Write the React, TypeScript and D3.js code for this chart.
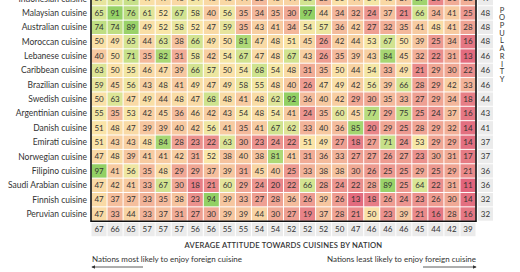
import React from 'react';
import * as d3 from 'd3';

const WIDTH = 520;
const HEIGHT = 272;

const cuisines = [
  'Indonesian cuisine',
  'Malaysian cuisine',
  'Australian cuisine',
  'Moroccan cuisine',
  'Lebanese cuisine',
  'Caribbean cuisine',
  'Brazilian cuisine',
  'Swedish cuisine',
  'Argentinian cuisine',
  'Danish cuisine',
  'Emirati cuisine',
  'Norwegian cuisine',
  'Filipino cuisine',
  'Saudi Arabian cuisine',
  'Finnish cuisine',
  'Peruvian cuisine',
];

// one row per cuisine, one column per (unlabelled) nation
const scores = [
  [59, 64, 71, 49, 47, 46, 54, 46, 46, 44, 35, 45, 44, 66, 35, 50, 44, 54, 46, 39, 87, 20, 31, 32],
  [65, 91, 76, 61, 52, 67, 58, 40, 56, 35, 34, 35, 30, 97, 44, 34, 32, 24, 37, 21, 66, 34, 41, 25],
  [74, 74, 89, 49, 52, 58, 52, 47, 59, 35, 43, 41, 34, 54, 57, 36, 42, 27, 32, 35, 41, 48, 41, 28],
  [50, 49, 65, 44, 63, 38, 66, 49, 50, 81, 47, 48, 51, 45, 26, 42, 44, 53, 67, 50, 39, 25, 34, 16],
  [40, 50, 71, 35, 82, 31, 58, 42, 54, 67, 47, 48, 67, 43, 26, 35, 39, 43, 84, 45, 32, 22, 31, 13],
  [63, 50, 55, 46, 47, 39, 66, 57, 50, 54, 68, 54, 48, 31, 35, 50, 44, 54, 33, 49, 21, 29, 30, 22],
  [59, 45, 56, 43, 48, 41, 49, 47, 49, 58, 55, 48, 40, 26, 47, 49, 42, 56, 39, 66, 28, 29, 42, 33],
  [50, 63, 47, 49, 44, 48, 47, 68, 48, 41, 48, 62, 92, 36, 40, 42, 29, 30, 35, 33, 27, 29, 34, 18],
  [55, 35, 53, 42, 45, 36, 46, 42, 43, 54, 48, 54, 41, 24, 35, 60, 45, 77, 29, 75, 25, 24, 37, 16],
  [51, 48, 47, 39, 39, 40, 42, 56, 41, 35, 41, 67, 62, 33, 40, 36, 85, 20, 29, 25, 28, 29, 32, 14],
  [51, 43, 43, 48, 84, 28, 23, 22, 63, 30, 23, 24, 22, 51, 49, 27, 18, 27, 71, 24, 53, 29, 29, 14],
  [47, 48, 39, 41, 41, 42, 31, 52, 38, 40, 38, 81, 41, 31, 36, 33, 27, 27, 26, 27, 23, 30, 31, 17],
  [97, 41, 56, 35, 48, 29, 29, 37, 39, 31, 45, 40, 25, 33, 38, 38, 30, 26, 25, 25, 29, 25, 29, 21],
  [47, 42, 41, 33, 67, 30, 18, 21, 60, 29, 24, 20, 22, 66, 28, 24, 22, 28, 89, 25, 64, 22, 31, 11],
  [47, 37, 37, 33, 35, 38, 23, 94, 39, 33, 27, 28, 36, 26, 39, 26, 13, 18, 26, 24, 23, 26, 30, 14],
  [47, 33, 44, 33, 37, 31, 27, 30, 39, 39, 44, 30, 27, 19, 37, 28, 21, 50, 23, 39, 21, 16, 28, 16],
];

const nationAverage = [67, 66, 65, 57, 57, 57, 56, 56, 55, 55, 54, 54, 52, 52, 52, 50, 47, 46, 46, 46, 45, 44, 42, 39];

const popularity = [49, 48, 48, 48, 46, 46, 46, 44, 43, 41, 37, 37, 36, 36, 32, 32];

const FONT = 'Lato, "Open Sans", sans-serif';

const grid = { l: 91, r: 476, t: -8.6, b: 221.2 };

const App = () => {
  const cols = d3.range(nationAverage.length);

  const x = d3.scaleBand<number>().domain(cols).range([grid.l, grid.r]);
  const y = d3.scaleBand<string>().domain(cuisines).range([grid.t, grid.b]);

  const color = d3
    .scaleLinear<string>()
    .domain([10, 25, 40, 52, 65, 92])
    .range(['#e0607a', '#ed9990', '#f7c9a0', '#fae6a8', '#d6e593', '#92d064'])
    .clamp(true);

  const gap = 1;
  const popX = grid.r + 1;
  const popW = 16;
  const avgY = grid.b + 1.5;
  const avgH = 13.5;

  return (
    <svg
      width={WIDTH}
      height={HEIGHT}
      style={{ position: 'absolute', left: 0, top: 0, background: '#fff' }}
      fontFamily={FONT}
    >
      {/* cells */}
      {scores.map((row, i) =>
        row.map((v, j) => (
          <g key={`c-${i}-${j}`}>
            <rect
              x={(x(j) as number) + gap / 2}
              y={(y(cuisines[i]) as number) + gap / 2}
              width={x.bandwidth() - gap}
              height={y.bandwidth() - gap}
              fill={color(v)}
            />
            <text
              x={(x(j) as number) + x.bandwidth() / 2}
              y={(y(cuisines[i]) as number) + y.bandwidth() / 2}
              dy="0.35em"
              textAnchor="middle"
              fontSize={8}
              fill="#333"
            >
              {v}
            </text>
          </g>
        ))
      )}

      {/* row labels */}
      {cuisines.map((c) => (
        <text
          key={c}
          x={grid.l - 4}
          y={(y(c) as number) + y.bandwidth() / 2}
          dy="0.35em"
          textAnchor="end"
          fontSize={8.5}
          fill="#333"
        >
          {c}
        </text>
      ))}

      {/* popularity column */}
      {popularity.map((p, i) => (
        <g key={`p-${i}`}>
          <rect
            x={popX + 1}
            y={(y(cuisines[i]) as number) + gap / 2}
            width={popW - 1}
            height={y.bandwidth() - gap}
            fill="#ebebeb"
          />
          <text
            x={popX + 1 + (popW - 1) / 2}
            y={(y(cuisines[i]) as number) + y.bandwidth() / 2}
            dy="0.35em"
            textAnchor="middle"
            fontSize={8}
            fill="#333"
          >
            {p}
          </text>
        </g>
      ))}

      {/* nation average row */}
      {nationAverage.map((a, j) => (
        <g key={`a-${j}`}>
          <rect
            x={(x(j) as number) + gap / 2}
            y={avgY}
            width={x.bandwidth() - gap}
            height={avgH}
            fill="#ebebeb"
          />
          <text
            x={(x(j) as number) + x.bandwidth() / 2}
            y={avgY + avgH / 2}
            dy="0.35em"
            textAnchor="middle"
            fontSize={8}
            fill="#333"
          >
            {a}
          </text>
        </g>
      ))}

      {/* frame */}
      <path
        d={`M${grid.l},${grid.t - 2}V${grid.b}H${grid.r}V${grid.t - 2}`}
        fill="none"
        stroke="#111"
        strokeWidth={1.6}
      />

      {/* popularity title */}
      {'POPULARITY'.split('').map((ch, i) => (
        <text
          key={`pl-${i}`}
          x={502}
          y={10 + i * 7.7}
          dy="0.35em"
          textAnchor="middle"
          fontSize={7.5}
          fill="#333"
        >
          {ch}
        </text>
      ))}

      <text
        x={(grid.l + grid.r) / 2}
        y={245}
        dy="0.35em"
        textAnchor="middle"
        fontSize={7.6}
        fill="#333"
        fontWeight={600}
        letterSpacing={0.2}
      >
        AVERAGE ATTITUDE TOWARDS CUISINES BY NATION
      </text>

      <defs>
        <marker id="arrowHead" viewBox="0 0 6 6" refX={5} refY={3} markerWidth={5} markerHeight={5} orient="auto">
          <path d="M0,0L6,3L0,6Z" fill="#333" />
        </marker>
      </defs>

      <text x={grid.l + 1} y={259} dy="0.35em" fontSize={8} fill="#333">
        Nations most likely to enjoy foreign cuisine
      </text>
      <line x1={143} x2={grid.l + 1} y1={267} y2={267} stroke="#333" strokeWidth={0.8} markerEnd="url(#arrowHead)" />

      <text x={grid.r} y={259} dy="0.35em" textAnchor="end" fontSize={8} fill="#333">
        Nations least likely to enjoy foreign cuisine
      </text>
      <line x1={423} x2={grid.r} y1={267} y2={267} stroke="#333" strokeWidth={0.8} markerEnd="url(#arrowHead)" />
    </svg>
  );
};

export default App;
